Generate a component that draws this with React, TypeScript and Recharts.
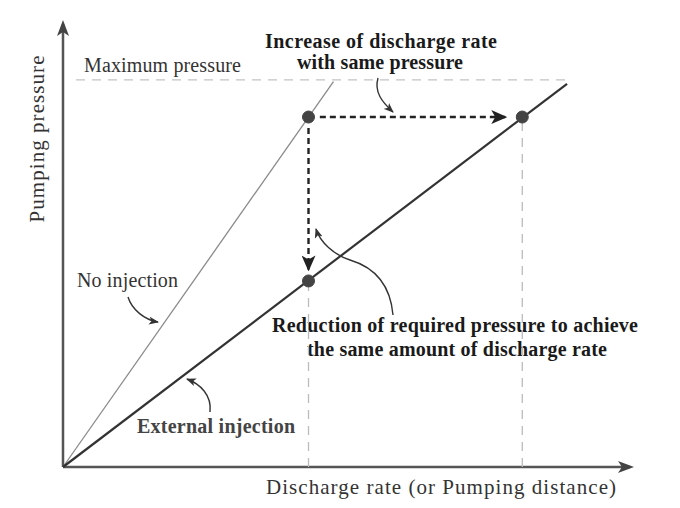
import { ComposedChart, Line, XAxis, YAxis, ReferenceLine } from 'recharts';

// discharge rate (x) / pumping pressure (y), schematic units 0-10
const noInjQ = [0, 4.77];
const noInjP = [0, 8.7];
const extQ = [0, 8.89];
const extP = [0, 8.65];

// operating points: A (no injection @ max), B (external @ same pressure), C (external @ same rate)
const pointQ = [4.33, 8.1, 4.33];
const pointP = [7.9, 7.9, 4.2];

const maxPressure = 8.74;
const maxLineFrom = 0.23;
const maxLineTo = 8.94;
const arrowDownEnd = 4.46;
const arrowRightEnd = 7.8;
const axisMax = 10;

const noInjection = noInjQ.map((q, i) => ({ q, p: noInjP[i] }));
const external = extQ.map((q, i) => ({ q, p: extP[i] }));
const points = pointQ.map((q, i) => ({ q, p: pointP[i] }));

const serif = "'Liberation Serif', 'Times New Roman', Times, serif";

export default function App() {
  const [A, B, C] = points;
  return (
    <div style={{ position: 'absolute', left: 0, top: 0, background: '#fff' }}>
      <ComposedChart width={680} height={508} margin={{ top: 24, right: 50, bottom: 40, left: 62 }}>
        <defs>
          <marker id="axisArrow" viewBox="0 0 16 12" refX="12" refY="6" markerWidth="16" markerHeight="12" markerUnits="userSpaceOnUse" orient="auto">
            <path d="M0,0 L16,6 L0,12 L4,6 Z" fill="#444" />
          </marker>
          <marker id="dashArrow" viewBox="0 0 16 14" refX="14" refY="7" markerWidth="16" markerHeight="14" markerUnits="userSpaceOnUse" orient="auto">
            <path d="M0,0 L16,7 L0,14 L4,7 Z" fill="#222" />
          </marker>
          <marker id="thinArrow" viewBox="0 0 10 8" refX="9" refY="4" markerWidth="10" markerHeight="8" markerUnits="userSpaceOnUse" orient="auto">
            <path d="M0,0 L10,4 L0,8 L2.5,4 Z" fill="#333" />
          </marker>
        </defs>
        <XAxis type="number" dataKey="q" domain={[0, axisMax]} height={1} tick={false} tickLine={false} axisLine={false} />
        <YAxis type="number" dataKey="p" domain={[0, axisMax]} width={1} tick={false} tickLine={false} axisLine={false} />

        <ReferenceLine segment={[{ x: 0, y: 0 }, { x: axisMax, y: 0 }]} stroke="#555" strokeWidth={2.5} ifOverflow="visible" markerEnd="url(#axisArrow)" />
        <ReferenceLine segment={[{ x: 0, y: 0 }, { x: 0, y: axisMax }]} stroke="#555" strokeWidth={2.5} ifOverflow="visible" markerEnd="url(#axisArrow)" />

        <ReferenceLine segment={[{ x: maxLineFrom, y: maxPressure }, { x: maxLineTo, y: maxPressure }]} stroke="#c4c4c4" strokeWidth={1.3} strokeDasharray="9 7" />
        <ReferenceLine segment={[{ x: A.q, y: 0 }, { x: A.q, y: C.p }]} stroke="#bbb" strokeWidth={1.3} strokeDasharray="9 7" />
        <ReferenceLine segment={[{ x: B.q, y: 0 }, { x: B.q, y: B.p }]} stroke="#bbb" strokeWidth={1.3} strokeDasharray="9 7" />

        <Line data={noInjection} dataKey="p" stroke="#8a8a8a" strokeWidth={1.3} dot={false} isAnimationActive={false} />
        <Line data={external} dataKey="p" stroke="#333" strokeWidth={2.2} dot={false} isAnimationActive={false} />

        <ReferenceLine segment={[{ x: A.q, y: A.p - 0.25 }, { x: A.q, y: arrowDownEnd }]} stroke="#222" strokeWidth={2.4} strokeDasharray="6 4" markerEnd="url(#dashArrow)" />
        <ReferenceLine segment={[{ x: A.q + 0.2, y: A.p }, { x: arrowRightEnd, y: B.p }]} stroke="#222" strokeWidth={2.4} strokeDasharray="6 4" markerEnd="url(#dashArrow)" />

        <Line data={points} dataKey="p" stroke="none" dot={{ r: 6, fill: '#444', stroke: '#444' }} isAnimationActive={false} />

        <g fill="none" stroke="#333" strokeWidth={1.4}>
          <path d="M 378 78 C 374 92, 382 102, 393 112" markerEnd="url(#thinArrow)" />
          <path d="M 128 297 C 132 310, 145 320, 158 322" markerEnd="url(#thinArrow)" />
          <path d="M 210 412 C 212 395, 200 384, 187 379" markerEnd="url(#thinArrow)" />
          <path d="M 393 315 C 390 280, 370 266, 350 260 C 334 255, 320 242, 316 229" markerEnd="url(#thinArrow)" />
        </g>

        <g style={{ fontFamily: serif }}>
          <text x={84} y={72} fontSize={20} fill="#333" textLength={157}>Maximum pressure</text>
          <text x={381} y={48} fontSize={20} fontWeight="bold" fill="#1a1a1a" textAnchor="middle" textLength={232}>Increase of  discharge rate</text>
          <text x={380} y={69} fontSize={20} fontWeight="bold" fill="#1a1a1a" textAnchor="middle" textLength={166}>with same pressure</text>
          <text x={77} y={287} fontSize={20} fill="#333" textLength={101}>No injection</text>
          <text x={137} y={433} fontSize={20} fontWeight="bold" fill="#444" textLength={158}>External injection</text>
          <text x={272} y={332} fontSize={20} fontWeight="bold" fill="#1a1a1a" textLength={366}>Reduction of required pressure to achieve</text>
          <text x={307} y={356} fontSize={20} fontWeight="bold" fill="#1a1a1a" textLength={300}>the same amount of discharge rate</text>
          <text x={266} y={494} fontSize={21} fill="#333" textLength={350}>Discharge rate (or Pumping distance)</text>
          <text x={0} y={0} fontSize={21} fill="#333" textLength={167} textAnchor="middle" transform="translate(44 139) rotate(-90)">Pumping pressure</text>
        </g>
      </ComposedChart>
    </div>
  );
}
